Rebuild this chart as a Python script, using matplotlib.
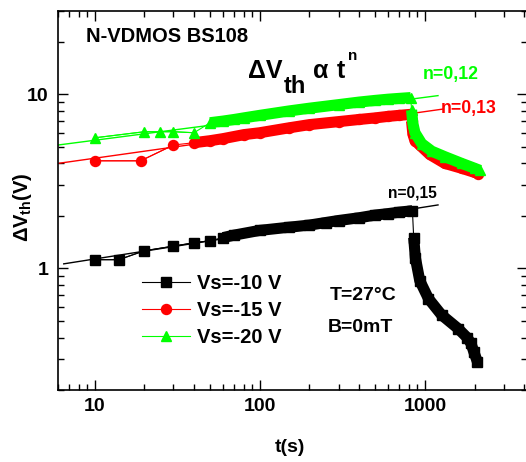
import matplotlib
matplotlib.use('Agg')
import matplotlib.pyplot as plt
from matplotlib.ticker import LogLocator, NullFormatter

plt.rcParams['font.family'] = ['Liberation Sans', 'DejaVu Sans']
plt.rcParams['font.weight'] = 'bold'
plt.rcParams['mathtext.fontset'] = 'custom'
plt.rcParams['mathtext.rm'] = 'Liberation Sans:bold'
plt.rcParams['mathtext.it'] = 'Liberation Sans:bold'
plt.rcParams['mathtext.bf'] = 'Liberation Sans:bold'

# Vs=-10 V (black squares)
t_early_10 = [10, 14, 20, 30, 40, 50]
v_early_10 = [1.12, 1.12, 1.26, 1.34, 1.40, 1.44]
t_stress_10 = [60, 70, 100, 150, 200, 250, 300, 400, 500, 600, 700, 840]
v_stress_10 = [1.50, 1.55, 1.65, 1.72, 1.77, 1.83, 1.88, 1.95, 2.02, 2.06, 2.10, 2.14]
t_rec_10 = [855, 875, 930, 1050, 1260, 1590, 1800, 1900, 1980, 2080]
v_rec_10 = [1.50, 1.15, 0.85, 0.67, 0.54, 0.45, 0.40, 0.37, 0.33, 0.29]

# Vs=-15 V (red circles)
t_early_15 = [10, 19, 30]
v_early_15 = [4.14, 4.14, 5.10]
t_stress_15 = [40, 50, 60, 80, 100, 150, 200, 300, 400, 500, 600, 700, 820]
v_stress_15 = [5.26, 5.40, 5.55, 5.85, 6.00, 6.40, 6.68, 6.95, 7.15, 7.30, 7.45, 7.55, 7.65]
t_rec_15 = [830, 845, 870, 930, 1070, 1320, 1670, 2000, 2100]
v_rec_15 = [7.0, 5.9, 5.4, 5.1, 4.5, 4.0, 3.75, 3.55, 3.5]

# Vs=-20 V (green triangles)
t_early_20 = [10, 20, 25, 30, 40]
v_early_20 = [5.61, 6.08, 6.08, 6.08, 6.0]
t_stress_20 = [50, 60, 70, 80, 100, 150, 200, 300, 400, 500, 600, 700, 820]
v_stress_20 = [6.85, 7.0, 7.15, 7.3, 7.55, 8.0, 8.3, 8.7, 9.0, 9.2, 9.35, 9.45, 9.55]
t_rec_20 = [830, 845, 870, 955, 1100, 1320, 1670, 2000, 2150]
v_rec_20 = [8.1, 6.8, 6.0, 5.2, 4.7, 4.37, 4.0, 3.75, 3.65]

# power-law fit lines (end points)
fit_t_10 = [6.5, 1200]
fit_v_10 = [1.06, 2.31]
fit_t_15 = [6, 1280]
fit_v_15 = [4.0, 8.2]
fit_t_20 = [6, 1200]
fit_v_20 = [5.1, 9.8]

W, H = 526, 462
fig = plt.figure(figsize=(W / 100, H / 100), dpi=100)
ax = fig.add_axes([58 / W, (H - 390) / H, (527 - 58) / W, 379 / H])


def px(x, y):
    return x / W, 1 - y / H


series = [
    (t_early_10, v_early_10, t_stress_10, v_stress_10, t_rec_10, v_rec_10,
     fit_t_10, fit_v_10, 'black', 's', 6.7, 'Vs=-10 V'),
    (t_early_15, v_early_15, t_stress_15, v_stress_15, t_rec_15, v_rec_15,
     fit_t_15, fit_v_15, '#ff0000', 'o', 7.2, 'Vs=-15 V'),
    (t_early_20, v_early_20, t_stress_20, v_stress_20, t_rec_20, v_rec_20,
     fit_t_20, fit_v_20, '#00ff00', '^', 7.6, 'Vs=-20 V'),
]

handles = []
for te, ve, ts, vs, tr, vr, ft, fv, c, m, ms, lab in series:
    ax.plot(te + ts + tr, ve + vs + vr, color=c, lw=0.8)
    # dense measurement stretches drawn as a solid band
    ax.plot(ts, vs, color=c, lw=8, solid_capstyle='butt', solid_joinstyle='round')
    ax.plot(tr, vr, color=c, lw=8, solid_capstyle='butt', solid_joinstyle='round')
    ax.plot(ts + tr, vs + vr, ls='none', marker=m, ms=ms, color=c, mec=c)
    h, = ax.plot(te, ve, color=c, lw=0.8, marker=m, ms=ms, mec=c, label=lab)
    handles.append(h)
    ax.plot(ft, fv, color=c, lw=1.0)

ax.set_xscale('log')
ax.set_yscale('log')
ax.set_xlim(6, 4150)
ax.set_ylim(0.2, 30)
ax.set_xticks([10, 100, 1000], ['10', '100', '1000'])
ax.set_yticks([1, 10], ['1', '10'])
ax.xaxis.set_minor_locator(LogLocator(base=10, subs=range(2, 10)))
ax.yaxis.set_minor_locator(LogLocator(base=10, subs=range(2, 10)))
ax.xaxis.set_minor_formatter(NullFormatter())
ax.yaxis.set_minor_formatter(NullFormatter())
ax.tick_params(which='both', direction='in', top=True, right=True, width=1)
ax.tick_params(which='major', length=7, labelsize=14)
ax.tick_params(which='minor', length=4)
ax.tick_params(axis='x', pad=6)
ax.tick_params(axis='y', pad=7)
for s in ax.spines.values():
    s.set_linewidth(1.2)

fig.text(*px(290, 448), 't(s)', ha='center', va='center', fontsize=14, weight='bold')
fig.text(*px(23, 207), r'$\Delta V_{th}(V)$', ha='center', va='center', rotation=90,
         fontsize=14.5)

leg = ax.legend(handles=handles, loc='upper left', bbox_to_anchor=px(142, 274),
                bbox_transform=fig.transFigure, frameon=False, fontsize=14.5,
                handlelength=2.4, handletextpad=0.35, labelspacing=0.4,
                borderpad=0, borderaxespad=0)
for txt in leg.get_texts():
    txt.set_weight('bold')

fig.text(*px(86, 37), 'N-VDMOS BS108', ha='left', va='center', fontsize=14.5, weight='bold')
fig.text(*px(248, 78.3), 'ΔV', ha='left', va='baseline', fontsize=18, weight='bold')
fig.text(*px(283.3, 92.7), 'th', ha='left', va='baseline', fontsize=17, weight='bold')
fig.text(*px(313.3, 78.3), 'α', ha='left', va='baseline', fontsize=18, weight='bold')
fig.text(*px(336.7, 78.3), 't', ha='left', va='baseline', fontsize=18, weight='bold')
fig.text(*px(348.3, 60), 'n', ha='left', va='baseline', fontsize=11, weight='bold')

fig.text(*px(423, 75), 'n=0,12', ha='left', va='center', fontsize=12.8, weight='bold',
         color='#00ff00')
fig.text(*px(441, 109), 'n=0,13', ha='left', va='center', fontsize=12.7, weight='bold',
         color='#ff0000')
fig.text(*px(388, 193), 'n=0,15', ha='left', va='center', fontsize=11.2, weight='bold',
         color='black')
fig.text(*px(330, 295), 'T=27°C', ha='left', va='center', fontsize=14, weight='bold')
fig.text(*px(328, 328), 'B=0mT', ha='left', va='center', fontsize=14, weight='bold')

fig.savefig('out.png', dpi=100)
